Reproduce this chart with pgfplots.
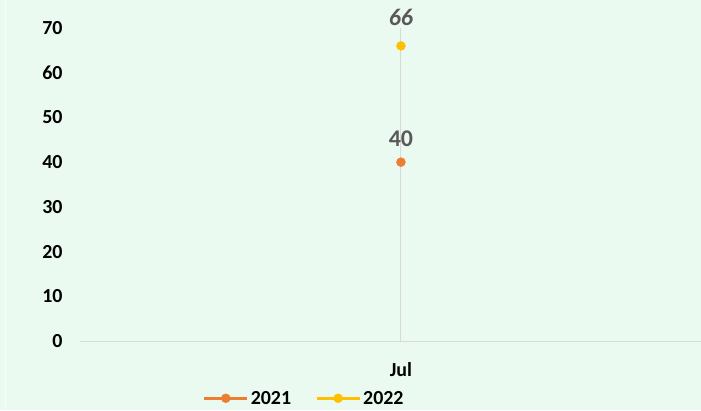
\documentclass[border=0pt]{standalone}
\usepackage{pgfplots}
\pgfplotsset{compat=1.18}
\usepackage{fontspec}
\setmainfont{Carlito}
\definecolor{bgc}{HTML}{EBFAF1}
\definecolor{c21}{HTML}{ED7D31}
\definecolor{c22}{HTML}{FFC000}
\definecolor{lbl}{HTML}{595959}
\definecolor{grd}{HTML}{D9D9D9}
\begin{document}
\begin{tikzpicture}[x=1bp,y=1bp]
\useasboundingbox (0,0) rectangle (701,410);
\fill[bgc] (0,0) rectangle (701,410);
\draw[white!60!bgc, line width=1bp] (5,0) -- (5,410);
\begin{axis}[
  at={(80bp,69bp)}, anchor=south west,
  scale only axis, width=621bp, height=313bp,
  xmin=-1, xmax=0.935, ymin=0, ymax=70,
  axis x line=bottom, axis y line=left,
  x axis line style={draw=grd, line width=1bp, -},
  y axis line style={draw=none},
  xtick={0}, xticklabels={Jul},
  xmajorgrids, grid style={draw=grd, line width=1bp},
  major tick length=0pt,
  ytick={0,10,...,70},
  yticklabel style={font=\fontsize{20}{22}\selectfont\bfseries, anchor=east, xshift=-14bp},
  xticklabel style={font=\fontsize{20}{22}\selectfont\bfseries, anchor=base, yshift=-35bp},
  /pgf/number format/assume math mode=true,
  clip=false,
  legend style={draw=none, fill=none, at={(rel axis cs:0.361,-0.183)}, anchor=center,
    font=\fontsize{20}{22}\selectfont\bfseries, legend columns=2,
    /tikz/every even column/.append style={column sep=22bp}},
  legend image code/.code={
    \draw[#1, line width=3bp] (0bp,0bp) -- (43bp,0bp);
    \fill[#1] (21.5bp,0bp) circle (4.5bp);
  },
]
\addplot[c21, only marks, mark=*, mark size=4.5bp,
  nodes near coords, every node near coord/.append style={font=\fontsize{24}{26}\selectfont\bfseries, text=lbl, anchor=base, yshift=16bp}]
  coordinates {(0,40)};
\addlegendentry{2021}
\addplot[c22, only marks, mark=*, mark size=4.5bp,
  nodes near coords, every node near coord/.append style={font=\fontsize{24}{26}\selectfont\bfseries\itshape, text=lbl, anchor=base, yshift=20bp}]
  coordinates {(0,66)};
\addlegendentry{2022}
\end{axis}
\end{tikzpicture}
\end{document}
